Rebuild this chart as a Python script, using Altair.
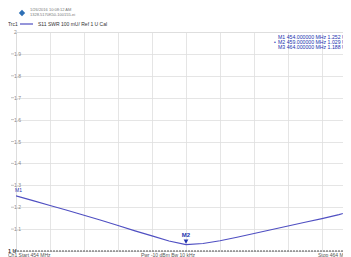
import altair as alt
import pandas as pd

# ---- data ----
freq_mhz = [454.0, 454.5, 455.0, 455.5, 456.0, 456.5, 457.0, 457.5, 458.0, 458.5,
            459.0, 459.5, 460.0, 460.5, 461.0, 461.5, 462.0, 462.5, 463.0, 463.5, 464.0]
swr = [1.252, 1.230, 1.208, 1.186, 1.163, 1.140, 1.116, 1.092, 1.069, 1.046,
       1.029, 1.034, 1.047, 1.063, 1.080, 1.097, 1.114, 1.131, 1.148, 1.166, 1.188]

x_grid = [455, 456, 457, 458, 459, 460, 461, 462, 463]
y_ticks = [1.1, 1.2, 1.3, 1.4, 1.5, 1.6, 1.7, 1.8, 1.9, 2.0]
y_tick_labels = ["1.1", "1.2", "1.3", "1.4", "1.5", "1.6", "1.7", "1.8", "1.9", "2"]

marker_names = ["M1", "M2", "M3"]
marker_freq = [454.0, 459.0, 464.0]
marker_swr = [1.252, 1.029, 1.188]

footer_labels = ["Ch1 Start 454 MHz", "Pwr -10 dBm Bw 10 kHz", "Stop 464 MHz"]
header_lines = ["1/26/2016 10:08:12 AM", "1328.5170K50-100155-ei"]
trace_title = ["Trc1", "S11  SWR  100 mU/  Ref 1 U  Cal"]

TRACE = "#4f4fc2"
MARK = "#2233b0"
GRID = "#dedede"
LBL = "#8a8a8a"
FONT = "Liberation Sans"

W = 327
xs = alt.Scale(domain=[454.0, 454.0 + W / 34.0], nice=False, zero=False)
ys = alt.Scale(domain=[1.0, 2.0], nice=False, zero=False)

trace = pd.DataFrame({"f": freq_mhz, "swr": swr})
line = alt.Chart(trace).mark_line(color=TRACE, strokeWidth=1.1, clip=True).encode(
    x=alt.X("f:Q", scale=xs,
            axis=alt.Axis(values=x_grid, grid=True, gridColor=GRID, gridWidth=0.8,
                          labels=False, ticks=False, domain=False, title=None)),
    y=alt.Y("swr:Q", scale=ys,
            axis=alt.Axis(values=y_ticks, grid=True, gridColor=GRID, gridWidth=0.8,
                          labels=False, ticks=False, domain=False, title=None)),
)

ydf = pd.DataFrame({"v": y_ticks, "t": y_tick_labels})
ylabels = alt.Chart(ydf).mark_text(align="left", baseline="middle", fontSize=5,
                                   color=LBL, font=FONT).encode(
    x=alt.value(-2), y=alt.Y("v:Q", scale=ys), text="t:N")
yticks = alt.Chart(ydf[ydf["v"] < 2]).mark_rule(color="#aaaaaa", strokeWidth=0.7).encode(
    x=alt.value(-5), x2=alt.value(-2), y=alt.Y("v:Q", scale=ys))

ref = pd.DataFrame({"v": [1.0]})
refline = alt.Chart(ref).mark_rule(color="#555555", strokeWidth=1, strokeDash=[2, 1]).encode(
    x=alt.value(-2), x2=alt.value(W), y=alt.Y("v:Q", scale=ys))
reflabel = alt.Chart(pd.DataFrame({"t": ["1 U"], "v": [1.0]})).mark_text(
    align="left", baseline="middle", fontSize=5.5, fontWeight="bold", color="#333333",
    font=FONT).encode(x=alt.value(-8), y=alt.Y("v:Q", scale=ys), text="t:N")

mdf = pd.DataFrame({"m": marker_names, "f": marker_freq, "s": marker_swr})
m2 = mdf[mdf["m"] == "M2"]
mtri = alt.Chart(m2).mark_point(shape="triangle-down", filled=True, color=MARK,
                                size=22, opacity=1, yOffset=-3).encode(
    x=alt.X("f:Q", scale=xs), y=alt.Y("s:Q", scale=ys))
mlab = alt.Chart(m2).mark_text(fontSize=6, color=MARK, font=FONT, dy=-10,
                               fontWeight="bold").encode(
    x=alt.X("f:Q", scale=xs), y=alt.Y("s:Q", scale=ys), text="m:N")
m1 = mdf[mdf["m"] == "M1"]
m1lab = alt.Chart(m1).mark_text(fontSize=5, color=MARK, font=FONT, align="left",
                                dy=-6, dx=-1).encode(
    x=alt.X("f:Q", scale=xs), y=alt.Y("s:Q", scale=ys), text="m:N")

rdf = pd.DataFrame({
    "t": [f"{n}  {f:.6f}  MHz  {s:.3f} U" for n, f, s in zip(marker_names, marker_freq, marker_swr)],
    "i": [0, 1, 2]})
readout = alt.Chart(rdf).mark_text(align="left", baseline="middle", fontSize=5.2,
                                   color=MARK, font=FONT).encode(
    x=alt.value(262), y=alt.Y("i:O", scale=alt.Scale(range=[3, 17]), axis=None), text="t:N")
active = alt.Chart(pd.DataFrame({"t": ["•"]})).mark_text(
    align="left", baseline="middle", fontSize=5, color=MARK).encode(
    x=alt.value(258), y=alt.value(10), text="t:N")

fdf = pd.DataFrame({"t": footer_labels, "x": [-8, 152, 302], "a": ["left", "center", "left"]})
footer = alt.layer(*[
    alt.Chart(fdf.iloc[[k]]).mark_text(align=a, baseline="middle", fontSize=5,
                                       color="#555555", font=FONT).encode(
        x=alt.value(xv), y=alt.value(223), text="t:N")
    for k, (xv, a) in enumerate(zip(fdf["x"], fdf["a"]))])

hdf = pd.DataFrame({"t": header_lines, "y": [-22, -17]})
header = alt.Chart(hdf).mark_text(align="left", baseline="middle", fontSize=4,
                                  color="#777777", font=FONT).encode(
    x=alt.value(14), y=alt.Y("y:Q", scale=None), text="t:N")
logo = alt.Chart(pd.DataFrame({"t": ["R&S"]})).mark_point(
    shape="diamond", filled=True, color="#2d6fb5", size=40, opacity=1).encode(
    x=alt.value(6), y=alt.value(-19))

tdf = pd.DataFrame({"t": trace_title, "x": [-8, 22]})
ttitle = alt.Chart(tdf).mark_text(align="left", baseline="middle", fontSize=5,
                                  color="#333333", font=FONT).encode(
    x=alt.X("x:Q", scale=None), y=alt.value(-8), text="t:N")
tline = alt.Chart(pd.DataFrame({"t": ["Trc1"]})).mark_rule(color=TRACE, strokeWidth=1.2).encode(
    x=alt.value(4), x2=alt.value(17), y=alt.value(-8))

chart = alt.layer(line, ylabels, yticks, refline, reflabel, mtri, mlab, m1lab,
                  readout, active, footer, header, logo, ttitle, tline).properties(
    width=W, height=219,
    padding={"left": 8, "top": 24, "right": 0, "bottom": 10},
    autosize="none",
).configure_view(stroke="#cfcfcf", strokeWidth=1).configure(background="white")

chart.save("out.html", embed_options={"renderer": "svg", "actions": False})
